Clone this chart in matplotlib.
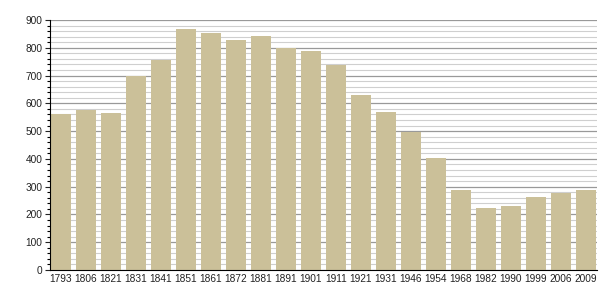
import matplotlib
matplotlib.use("Agg")
import matplotlib.pyplot as plt
from matplotlib.ticker import MultipleLocator

years = ["1793", "1806", "1821", "1831", "1841", "1851", "1861", "1872", "1881", "1891", "1901",
         "1911", "1921", "1931", "1946", "1954", "1968", "1982", "1990", "1999", "2006", "2009"]
population = [563, 577, 565, 697, 757, 867, 855, 828, 843, 799, 788,
              738, 630, 569, 497, 403, 288, 223, 231, 264, 277, 288]

plt.rcParams['font.family'] = ['Liberation Sans', 'DejaVu Sans']

fig = plt.figure(figsize=(6.05, 3.0), dpi=100)
ax = fig.add_axes([50/605, 30/300, 547/605, 250/300])

x = list(range(len(years)))
ax.bar(x, population, width=0.8, color="#cbc099", zorder=3)

ax.set_ylim(0, 900)
ax.set_xlim(-0.44, 21.44)
ax.yaxis.set_major_locator(MultipleLocator(100))
ax.yaxis.set_minor_locator(MultipleLocator(20))
ax.grid(axis="y", which="major", color="#999999", linewidth=0.9, zorder=0)
ax.grid(axis="y", which="minor", color="#cfcfcf", linewidth=0.8, zorder=0)
ax.set_xticks(x)
ax.set_xticklabels(years)
ax.tick_params(axis="x", length=0, pad=3, labelsize=7.3, colors="#222222")
ax.tick_params(axis="y", which="major", length=3.5, width=0.8, labelsize=7.3, pad=2, colors="#222222")
ax.tick_params(axis="y", which="minor", length=2.5, width=0.8)
for s in ["top", "right"]:
    ax.spines[s].set_visible(False)
ax.spines["left"].set_color("black")
ax.spines["bottom"].set_color("black")
ax.spines["left"].set_zorder(4)
ax.spines["bottom"].set_zorder(4)

fig.savefig("out.png", dpi=100)
